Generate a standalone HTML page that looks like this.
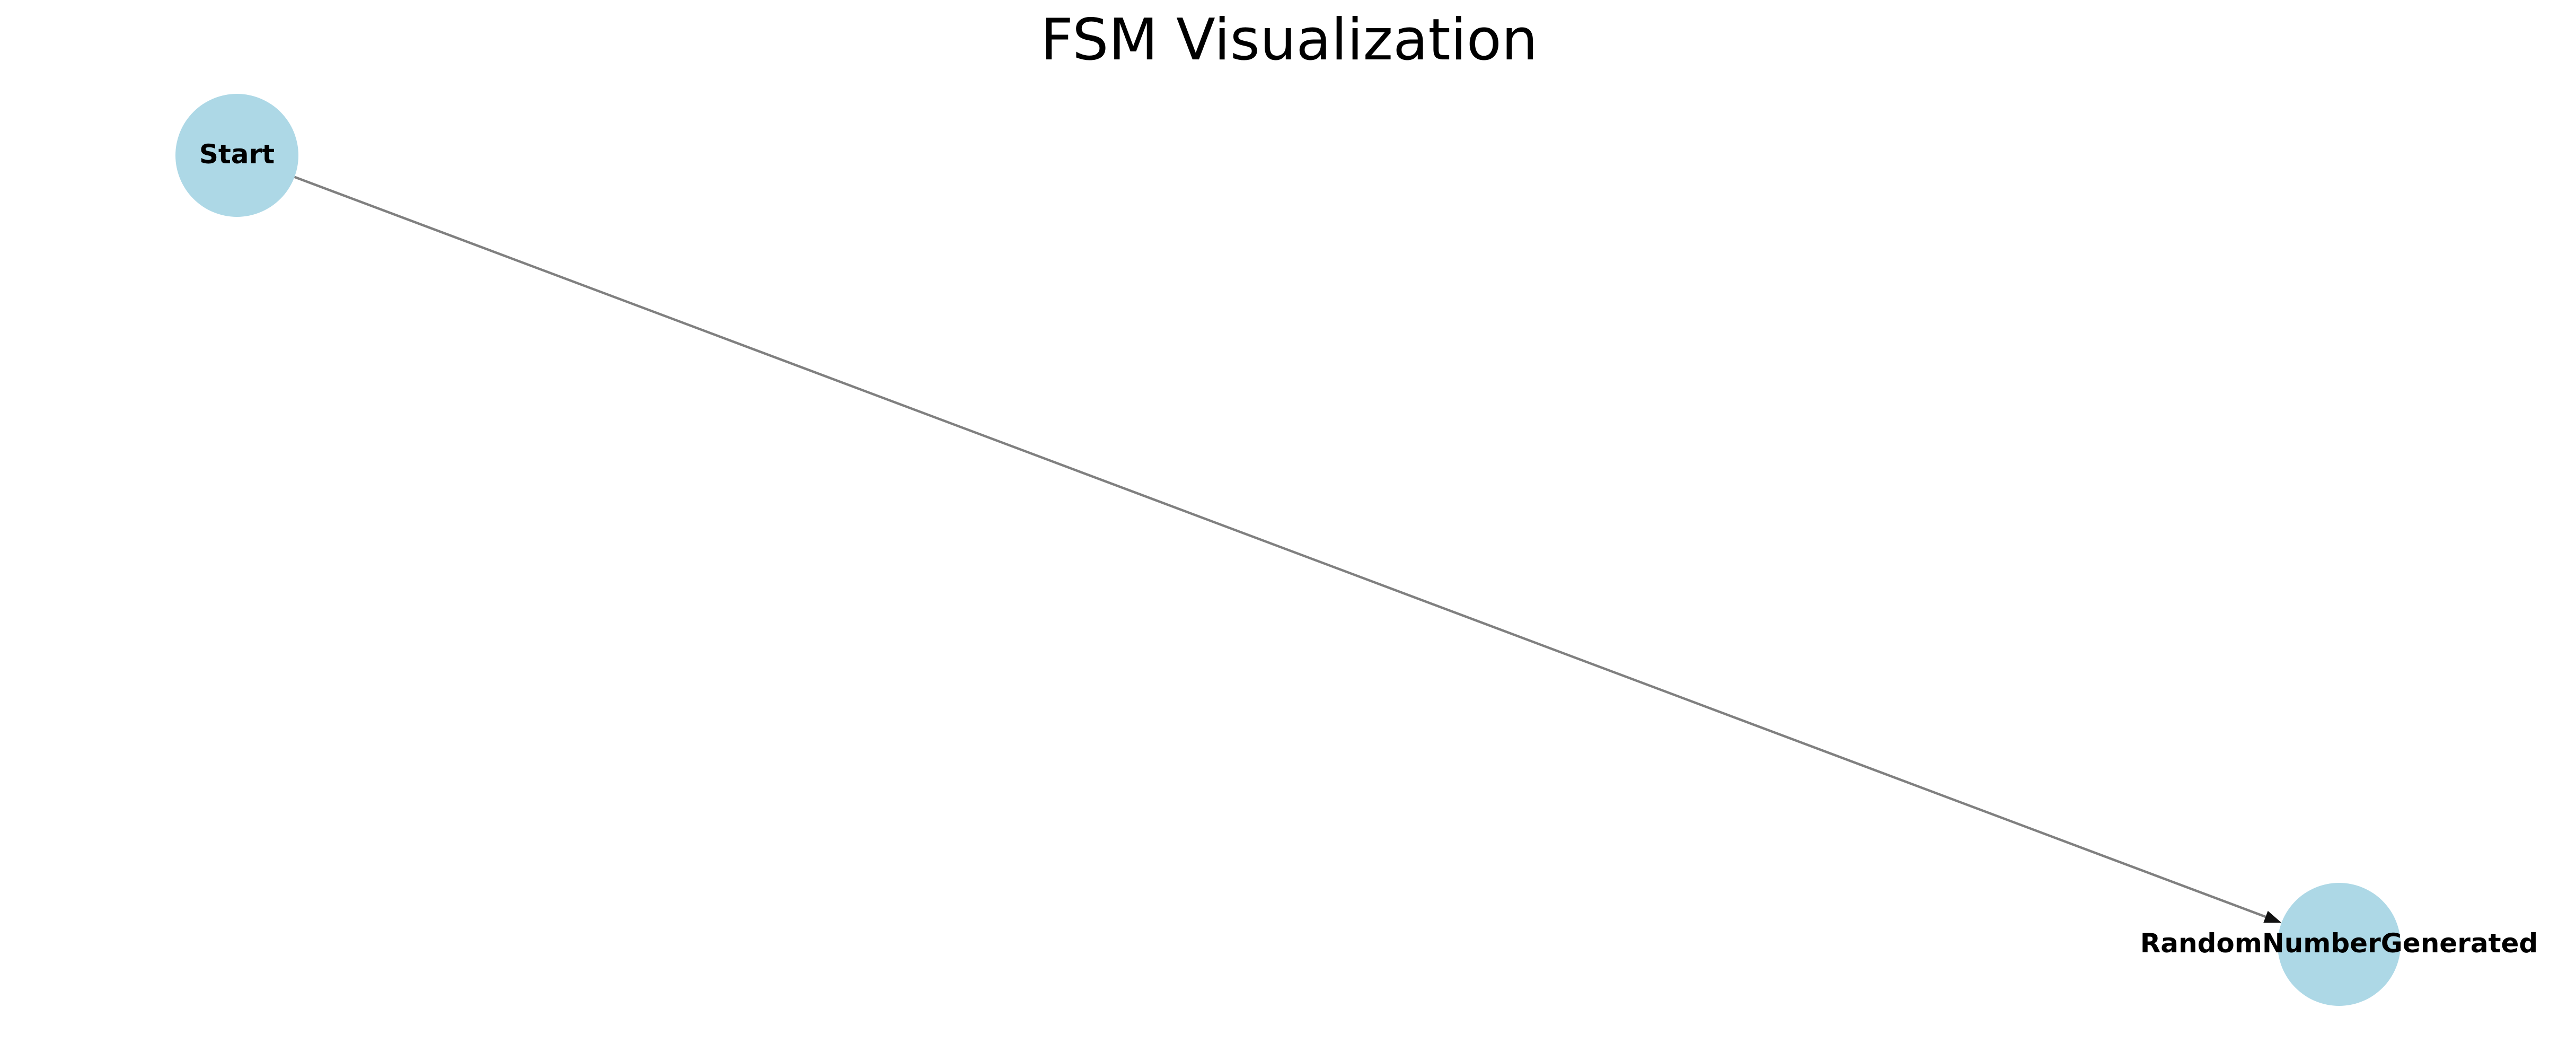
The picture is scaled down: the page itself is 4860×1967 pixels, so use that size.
<!DOCTYPE html>
<html><head><meta charset="utf-8"><style>
html,body{margin:0;padding:0;background:#fff;}
svg{display:block;}
text{font-family:"DejaVu Sans","Liberation Sans",sans-serif;}
</style></head><body>
<svg id="chart" width="4860" height="1967" viewBox="0 0 4860 1967" xmlns="http://www.w3.org/2000/svg">
<rect width="4860" height="1967" fill="#fff"/>
<text x="2432" y="112" font-size="108" text-anchor="middle" fill="#000">FSM Visualization</text>
<g id="edges"></g>
<g id="nodes"></g>
</svg>
<script>
const nodeNames = ["Start", "RandomNumberGenerated"];
const nodeX = [447, 4413];
const nodeY = [293, 1781];
const edgeFrom = [0];
const edgeTo = [1];

const NS = "http://www.w3.org/2000/svg";
const R = 116;
const edgesG = document.getElementById("edges");
const nodesG = document.getElementById("nodes");

for (let i = 0; i < edgeFrom.length; i++) {
  const x1 = nodeX[edgeFrom[i]], y1 = nodeY[edgeFrom[i]];
  const x2 = nodeX[edgeTo[i]], y2 = nodeY[edgeTo[i]];
  const dx = x2 - x1, dy = y2 - y1, L = Math.hypot(dx, dy);
  const ux = dx / L, uy = dy / L;
  const sx = x1 + ux * R, sy = y1 + uy * R;
  const tx = x2 - ux * R, ty = y2 - uy * R;
  const ah = 32, aw = 12;
  const bx = tx - ux * ah, by = ty - uy * ah;
  const line = document.createElementNS(NS, "line");
  line.setAttribute("x1", sx); line.setAttribute("y1", sy);
  line.setAttribute("x2", bx); line.setAttribute("y2", by);
  line.setAttribute("stroke", "#808080"); line.setAttribute("stroke-width", "4.5");
  
  
  edgesG.appendChild(line);
  const head = document.createElementNS(NS, "polygon");
  head.setAttribute("points", `${tx},${ty} ${bx - uy * aw},${by + ux * aw} ${bx + uy * aw},${by - ux * aw}`);
  head.setAttribute("fill", "#111");
  
  
  edgesG.appendChild(head);
}

for (let i = 0; i < nodeNames.length; i++) {
  const c = document.createElementNS(NS, "circle");
  c.setAttribute("cx", nodeX[i]); c.setAttribute("cy", nodeY[i]); c.setAttribute("r", R);
  c.setAttribute("fill", "#add8e6");
  
  
  nodesG.appendChild(c);
  const t = document.createElementNS(NS, "text");
  t.setAttribute("x", nodeX[i]); t.setAttribute("y", nodeY[i] + 15);
  t.setAttribute("text-anchor", "middle"); t.setAttribute("font-size", "50");
  t.setAttribute("font-weight", "bold"); t.setAttribute("fill", "#000");
  t.textContent = nodeNames[i];
  
  
  nodesG.appendChild(t);
}
</script>
</body></html>
